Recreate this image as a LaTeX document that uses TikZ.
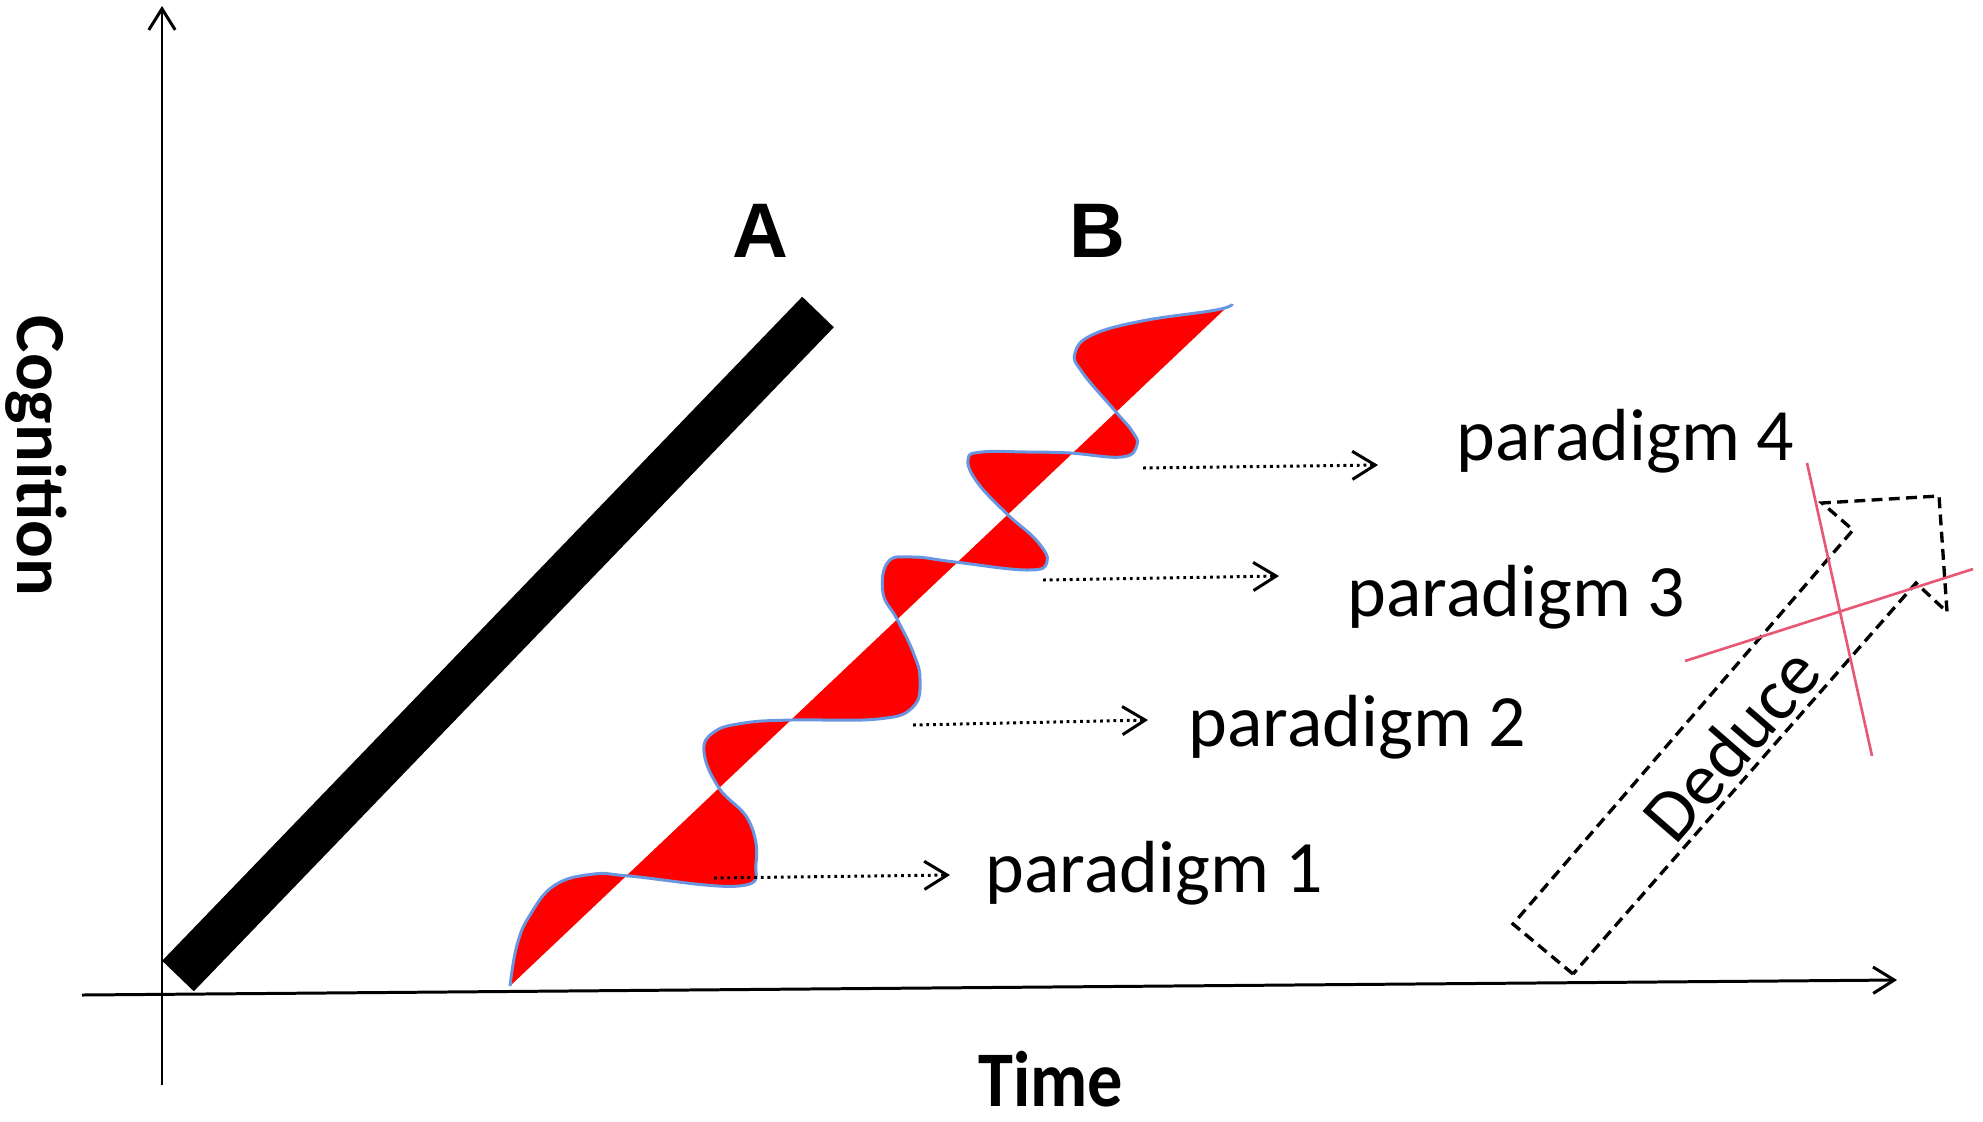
\documentclass[tikz,border=0pt]{standalone}
\usepackage{fontspec}
\setmainfont{Carlito}
\newfontfamily\arialfont{Liberation Sans}
\usetikzlibrary{arrows.meta}
\definecolor{wavered}{RGB}{255,0,0}
\definecolor{waveblue}{RGB}{105,150,225}
\definecolor{crosspink}{RGB}{232,88,118}
\tikzset{
  axisline/.style={line width=0.85pt,-{Straight Barb[length=6pt,width=7.5pt]}},
  dotarrow/.style={line width=0.85pt,dash pattern=on 0.8pt off 1.1pt,-{Straight Barb[length=6.5pt,width=8pt]}},
  labeltext/.style={font=\fontsize{21}{25}\selectfont,inner sep=0pt},
  boldtext/.style={font=\bfseries\fontsize{20}{24}\selectfont,inner sep=0pt},
  lettertext/.style={font=\arialfont\bfseries\fontsize{22}{26}\selectfont,inner sep=0pt,anchor=base},
  deducebox/.style={line width=0.95pt,dash pattern=on 3.1pt off 1.8pt},
  crossline/.style={crosspink,line width=0.75pt}
}
\begin{document}
\begin{tikzpicture}[x=0.01cm,y=-0.01cm]
\fill[white] (0,0) rectangle (1983,1121);
\useasboundingbox (0,0) rectangle (1983,1121);

% axes
\coordinate (yb) at (162,1085);
\coordinate (yt) at (162,6);
\coordinate (xl) at (82,995);
\coordinate (xr) at (1897,980);
\draw[axisline] (yb) -- (yt);
\draw[axisline] (xl) -- (xr);

% bar A
\coordinate (a0) at (178,976);
\coordinate (a1) at (818,312);
\draw[line width=12.5pt] (a0) -- (a1);

% wave B
\fill[wavered] plot[smooth,tension=0.7] coordinates {
 (510,986) (517,945) (530,915) (555,885) (594,874) (629,876)
 (739,886) (756,863) (749,821) (719,788)
 (704,752) (714,732) (744,723) (791,720)
 (878,719) (913,707) (920,679) (913,652) (897,619)
 (883,593) (888,562) (913,557) (955,562)
 (1027,570) (1047,562) (1037,541) (1007,514)
 (977,482) (968,459) (982,452) (1027,452) (1070,453)
 (1122,457) (1137,445) (1132,431) (1116,412)
 (1082,372) (1075,353) (1092,335) (1142,321) (1216,310) (1228,306)} -- cycle;
\draw[waveblue,line width=0.85pt] plot[smooth,tension=0.7] coordinates {
 (510,986) (517,945) (530,915) (555,885) (594,874) (629,876)
 (739,886) (756,863) (749,821) (719,788)
 (704,752) (714,732) (744,723) (791,720)
 (878,719) (913,707) (920,679) (913,652) (897,619)
 (883,593) (888,562) (913,557) (955,562)
 (1027,570) (1047,562) (1037,541) (1007,514)
 (977,482) (968,459) (982,452) (1027,452) (1070,453)
 (1122,457) (1137,445) (1132,431) (1116,412)
 (1082,372) (1075,353) (1092,335) (1142,321) (1216,310) (1232,304)};

% letters
\node[lettertext] (A) at (760,257) {A};
\node[lettertext] (B) at (1097,257) {B};

% paradigm labels
\node[labeltext,anchor=base west] (p1) at (985,892) {paradigm 1};
\node[labeltext,anchor=base west] (p2) at (1188,746) {paradigm 2};
\node[labeltext,anchor=base west] (p3) at (1347,616) {paradigm 3};
\node[labeltext,anchor=base west] (p4) at (1456,460) {paradigm 4};

% dotted arrows
\coordinate (s1) at (714,878);
\coordinate (e1) at (950,875);
\coordinate (s2) at (913,725);
\coordinate (e2) at (1148,720);
\coordinate (s3) at (1043,580);
\coordinate (e3) at (1279,576);
\coordinate (s4) at (1143,468);
\coordinate (e4) at (1378,465);
\draw[dotarrow] (s1) -- (e1);
\draw[dotarrow] (s2) -- (e2);
\draw[dotarrow] (s3) -- (e3);
\draw[dotarrow] (s4) -- (e4);

% axis labels
\node[boldtext,rotate=-90] (cog) at (36,456) {Cognition};
\node[boldtext,anchor=base] (time) at (1051,1106) {\scalebox{1}[1.12]{Time}};

% deduce arrow
\coordinate (d1) at (1573,974);
\coordinate (d2) at (1513,924);
\coordinate (d3) at (1853,530);
\coordinate (d4) at (1822,503);
\coordinate (d5) at (1939,496);
\coordinate (d6) at (1947,612);
\coordinate (d7) at (1916,583);
\draw[deducebox] (d1) -- (d2) -- (d3) -- (d4) -- (d5) -- (d6) -- (d7) -- cycle;
\node[labeltext,rotate=49] (ded) at (1731,744) {Deduce};

% cross
\coordinate (c1) at (1807,463);
\coordinate (c2) at (1872,756);
\coordinate (c3) at (1685,661);
\coordinate (c4) at (1973,569);
\draw[crossline] (c1) -- (c2);
\draw[crossline] (c3) -- (c4);
\end{tikzpicture}
\end{document}
